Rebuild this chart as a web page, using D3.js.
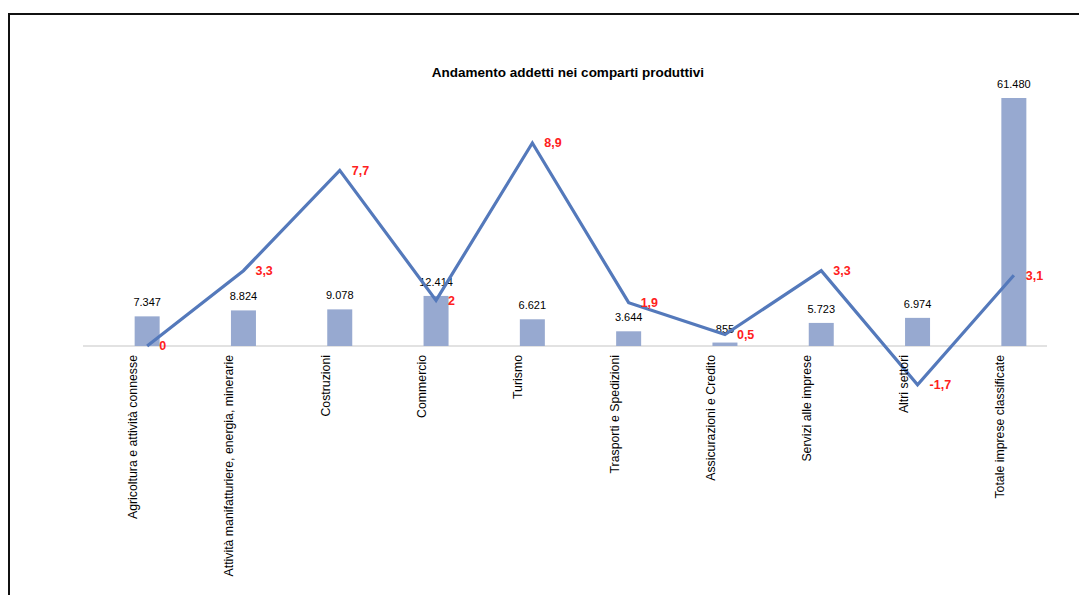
<!DOCTYPE html>
<html>
<head>
<meta charset="utf-8">
<script src="https://cdn.jsdelivr.net/npm/d3@7"></script>
<style>
  body { margin: 0; background: #fff; }
  svg { display: block; font-family: "Liberation Sans", Arial, sans-serif; }
</style>
</head>
<body>
<div id="chart"></div>
<script>
var categories = [
  "Agricoltura e attività connesse",
  "Attività manifatturiere, energia, minerarie",
  "Costruzioni",
  "Commercio",
  "Turismo",
  "Trasporti e  Spedizioni",
  "Assicurazioni e Credito",
  "Servizi alle imprese",
  "Altri settori",
  "Totale imprese classificate"
];
var addetti = [7347, 8824, 9078, 12414, 6621, 3644, 855, 5723, 6974, 61480];
var variazione = [0, 3.3, 7.7, 2, 8.9, 1.9, 0.5, 3.3, -1.7, 3.1];

var W = 1079, H = 595;
var baseY = 346;

var svg = d3.select("#chart").append("svg")
  .attr("width", W)
  .attr("height", H);

// frame
svg.append("rect")
  .attr("x", 9).attr("y", 14)
  .attr("width", W + 20).attr("height", H + 20)
  .attr("fill", "none")
  .attr("stroke", "#111")
  .attr("stroke-width", 2);

var x = d3.scaleBand()
  .domain(categories)
  .range([99, 1062]);

var yBar = d3.scaleLinear()
  .domain([0, 61480])
  .range([baseY, 98]);

var yLine = d3.scaleLinear()
  .domain([0, 8.9])
  .range([baseY, 143]);

var fmtIt = d3.formatLocale({ decimal: ",", thousands: ".", grouping: [3], currency: ["", ""] });
var fmtBar = fmtIt.format(",d");
var fmtLine = function (v) { return String(v).replace(".", ","); };

// title
svg.append("text")
  .attr("x", 568).attr("y", 77)
  .attr("text-anchor", "middle")
  .style("font-size", "13.5px")
  .style("font-weight", "bold")
  .attr("fill", "#000")
  .text("Andamento addetti nei comparti produttivi");

// baseline
svg.append("line")
  .attr("x1", 83).attr("x2", 1047)
  .attr("y1", baseY).attr("y2", baseY)
  .attr("stroke", "#d9d9d9")
  .attr("stroke-width", 1.5);

var cx = function (d, i) { return x(categories[i]) + x.bandwidth() / 2; };

// bars
svg.selectAll(".bar")
  .data(addetti)
  .enter()
  .append("rect")
  .attr("class", "bar")
  .attr("x", function (d, i) { return cx(d, i) - 12.5; })
  .attr("width", 25)
  .attr("y", function (d) { return yBar(d); })
  .attr("height", function (d) { return baseY - yBar(d); })
  .attr("fill", "#97a9d0");

// bar labels
svg.selectAll(".barlab")
  .data(addetti)
  .enter()
  .append("text")
  .attr("class", "barlab")
  .attr("x", cx)
  .attr("y", function (d) { return yBar(d) - 10; })
  .attr("text-anchor", "middle")
  .style("font-size", "11px")
  .attr("fill", "#000")
  .text(fmtBar);

// line
var line = d3.line()
  .x(function (d, i) { return cx(d, i); })
  .y(function (d) { return yLine(d); });

svg.append("path")
  .datum(variazione)
  .attr("d", line)
  .attr("fill", "none")
  .attr("stroke", "#5479bb")
  .attr("stroke-width", 3.2)
  .attr("stroke-linejoin", "miter");

// line labels
svg.selectAll(".linelab")
  .data(variazione)
  .enter()
  .append("text")
  .attr("class", "linelab")
  .attr("x", function (d, i) { return cx(d, i) + 12; })
  .attr("y", function (d) { return yLine(d); })
  .attr("dy", "0.35em")
  .style("font-size", "12.5px")
  .style("font-weight", "bold")
  .attr("fill", "#ff2020")
  .text(fmtLine);

// category labels
svg.selectAll(".cat")
  .data(categories)
  .enter()
  .append("text")
  .attr("class", "cat")
  .attr("transform", function (d, i) {
    return "translate(" + (cx(d, i) - 10) + "," + (baseY + 9) + ") rotate(-90)";
  })
  .attr("text-anchor", "end")
  .style("font-size", "12.3px")
  .attr("fill", "#000")
  .text(function (d) { return d; });
</script>
</body>
</html>
